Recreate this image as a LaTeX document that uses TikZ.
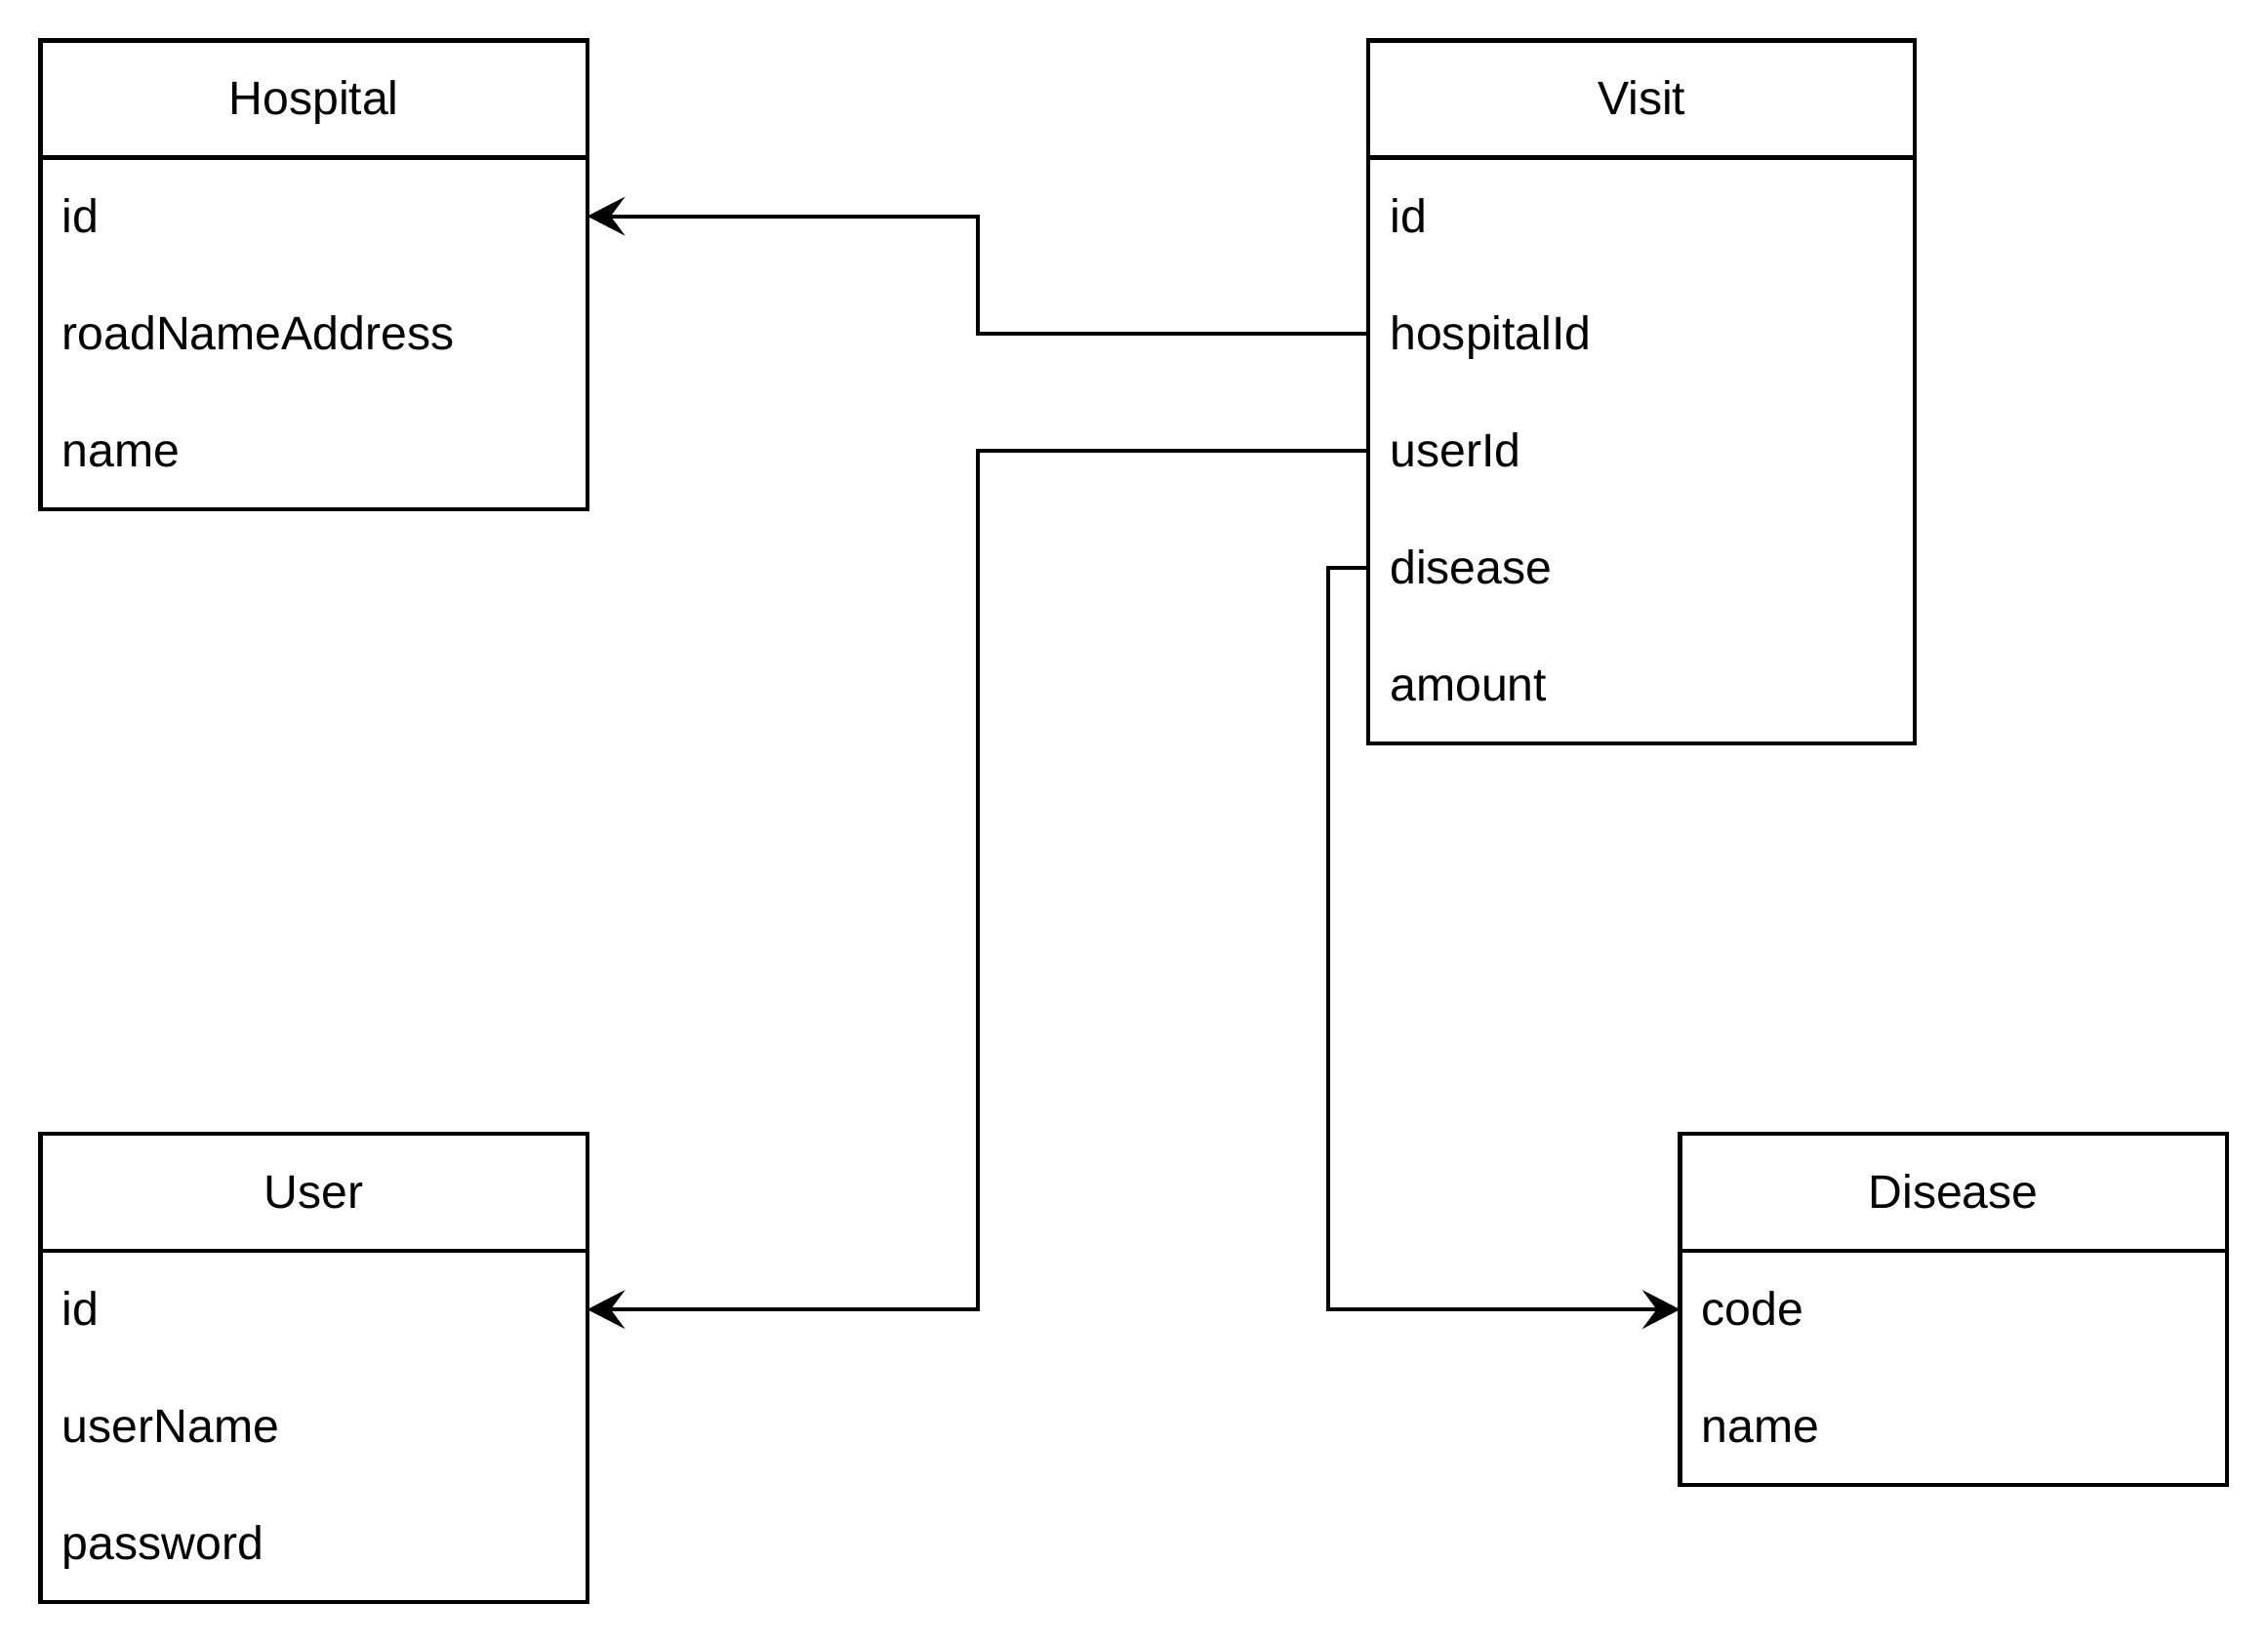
\documentclass[tikz,border=0pt]{standalone}
\usepackage{fontspec}
\setmainfont{Liberation Sans}
\usetikzlibrary{arrows.meta,positioning}

\begin{document}
\begin{tikzpicture}[
      head/.style={rectangle, draw, line width=0.8pt, outer sep=0pt,
                   minimum width=3.78cm, minimum height=0.81cm,
                   inner sep=0pt, text height=0.78em, text depth=0.15em,
                   font=\fontsize{9.25}{11}\selectfont},
      field/.style={rectangle, outer sep=0pt, minimum width=3.78cm,
                    minimum height=0.81cm, text width=3.48cm,
                    inner xsep=0.15cm, inner ysep=0pt, align=left,
                    text height=0.78em, text depth=0.15em,
                    font=\fontsize{9.25}{11}\selectfont},
      frame/.style={draw, line width=0.8pt},
      arr/.style={-{Stealth[length=7.4pt, width=7.6pt, inset=2.8pt]},
                  line width=0.8pt},
    ]
    \useasboundingbox (0,0) rectangle (15.68,-11.36);

    % Hospital table
    \node[head] (hosp) at (2.17, -0.685) {Hospital};
    \node[field, below=0pt of hosp]      (hosp-id)   {id};
    \node[field, below=0pt of hosp-id]   (hosp-road) {roadNameAddress};
    \node[field, below=0pt of hosp-road] (hosp-name) {name};
    \draw[frame] (hosp.south west) rectangle (hosp-name.south east);

    % Visit table
    \node[head] (vis) at (11.35, -0.685) {Visit};
    \node[field, below=0pt of vis]     (vis-id)  {id};
    \node[field, below=0pt of vis-id]  (vis-hid) {hospitalId};
    \node[field, below=0pt of vis-hid] (vis-uid) {userId};
    \node[field, below=0pt of vis-uid] (vis-dis) {disease};
    \node[field, below=0pt of vis-dis] (vis-amt) {amount};
    \draw[frame] (vis.south west) rectangle (vis-amt.south east);

    % User table
    \node[head] (user) at (2.17, -8.245) {User};
    \node[field, below=0pt of user]      (user-id)   {id};
    \node[field, below=0pt of user-id]   (user-name) {userName};
    \node[field, below=0pt of user-name] (user-pw)   {password};
    \draw[frame] (user.south west) rectangle (user-pw.south east);

    % Disease table
    \node[head] (dis) at (13.505, -8.245) {Disease};
    \node[field, below=0pt of dis]      (dis-code) {code};
    \node[field, below=0pt of dis-code] (dis-name) {name};
    \draw[frame] (dis.south west) rectangle (dis-name.south east);

    % Relations
    \draw[arr] (vis-hid.west) -- ++(-2.7,0) |- (hosp-id.east);
    \draw[arr] (vis-uid.west) -- ++(-2.7,0) |- (user-id.east);
    \draw[arr] (vis-dis.west) -- ++(-0.28,0) |- (dis-code.west);

\end{tikzpicture}
\end{document}
